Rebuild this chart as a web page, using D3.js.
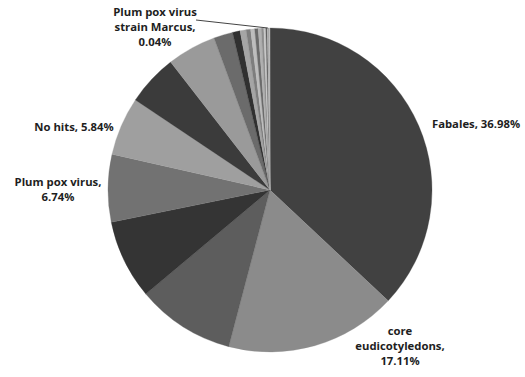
<!DOCTYPE html>
<html>
<head>
<meta charset="utf-8">
<script src="https://cdn.jsdelivr.net/npm/d3@7"></script>
<style>
  html, body { margin: 0; padding: 0; background: #ffffff; }
  svg { display: block; }
  text { font-family: "Open Sans", Lato, sans-serif; font-weight: bold; fill: #1e1e1e; }
</style>
</head>
<body>
<svg id="chart" width="525" height="377"></svg>
<script>
// Slice names (clockwise from 12 o'clock); unlabeled slices keep generic names
const categories = [
  "Fabales", "core eudicotyledons", "slice 3", "slice 4", "Plum pox virus",
  "No hits", "slice 7", "slice 8", "slice 9", "slice 10",
  "slice 11", "slice 12", "slice 13", "slice 14", "slice 15",
  "slice 16", "slice 17", "slice 18", "slice 19", "slice 20",
  "Plum pox virus strain Marcus"
];
// Percentages (labeled ones, others estimated from angles)
const percentages = [
  36.98, 17.11, 9.8, 7.9, 6.74,
  5.84, 5.1, 4.9, 1.9, 0.75,
  0.6, 0.45, 0.4, 0.35, 0.3,
  0.25, 0.2, 0.15, 0.12, 0.1,
  0.04
];
// Gray shades per slice
const shades = [
  "#414141", "#8b8b8b", "#5d5d5d", "#343434", "#727272",
  "#9f9f9f", "#3b3b3b", "#9a9a9a", "#6b6b6b", "#303030",
  "#a5a5a5", "#7e7e7e", "#bdbdbd", "#6a6a6a", "#b0b0b0",
  "#8e8e8e", "#c8c8c8", "#5f5f5f", "#b8b8b8", "#8a8a8a",
  "#d0d0d0"
];
// Label texts (lines) for labeled slices
const labelLines = {
  "Fabales": ["Fabales, 36.98%"],
  "core eudicotyledons": ["core", "eudicotyledons,", "17.11%"],
  "Plum pox virus": ["Plum pox virus,", "6.74%"],
  "No hits": ["No hits, 5.84%"],
  "Plum pox virus strain Marcus": ["Plum pox virus", "strain Marcus,", "0.04%"]
};

const svg = d3.select("#chart");
const cx = 270, cy = 190, r = 162;
const g = svg.append("g").attr("transform", `translate(${cx},${cy})`);

const data = categories.map((c, i) => ({ name: c, value: percentages[i], color: shades[i] }));
const pie = d3.pie().value(d => d.value).sort(null);
const arcs = pie(data);
const arc = d3.arc().innerRadius(0).outerRadius(r);

g.selectAll("path.slice").data(arcs).enter().append("path")
  .attr("class", "slice")
  .attr("d", arc)
  .attr("fill", d => d.data.color)
  .attr("stroke", d => d.data.color)
  .attr("stroke-width", 0.3);

const labelPos = {
  "Fabales": { x: 476, y: 128 },
  "core eudicotyledons": { x: 400, y: 335 },
  "Plum pox virus": { x: 58, y: 186 },
  "No hits": { x: 74, y: 131 },
  "Plum pox virus strain Marcus": { x: 155, y: 16 }
};
const lineH = 15;

arcs.forEach(a => {
  const lines = labelLines[a.data.name];
  if (!lines) return;
  const p = labelPos[a.data.name];
  const t = svg.append("text")
    .attr("x", p.x).attr("y", p.y)
    .attr("text-anchor", "middle")
    .style("font-size", "11.3px");
  lines.forEach((ln, i) => {
    t.append("tspan").attr("x", p.x).attr("dy", i === 0 ? 0 : lineH).text(ln);
  });
  if (a.data.name === "Plum pox virus strain Marcus") {
    const mid = (a.startAngle + a.endAngle) / 2;
    const ex = cx + Math.sin(mid) * r, ey = cy - Math.cos(mid) * r;
    svg.append("line")
      .attr("x1", 196).attr("y1", 20)
      .attr("x2", ex - 2).attr("y2", ey)
      .attr("stroke", "#444").attr("stroke-width", 1);
  }
});
</script>
</body>
</html>
